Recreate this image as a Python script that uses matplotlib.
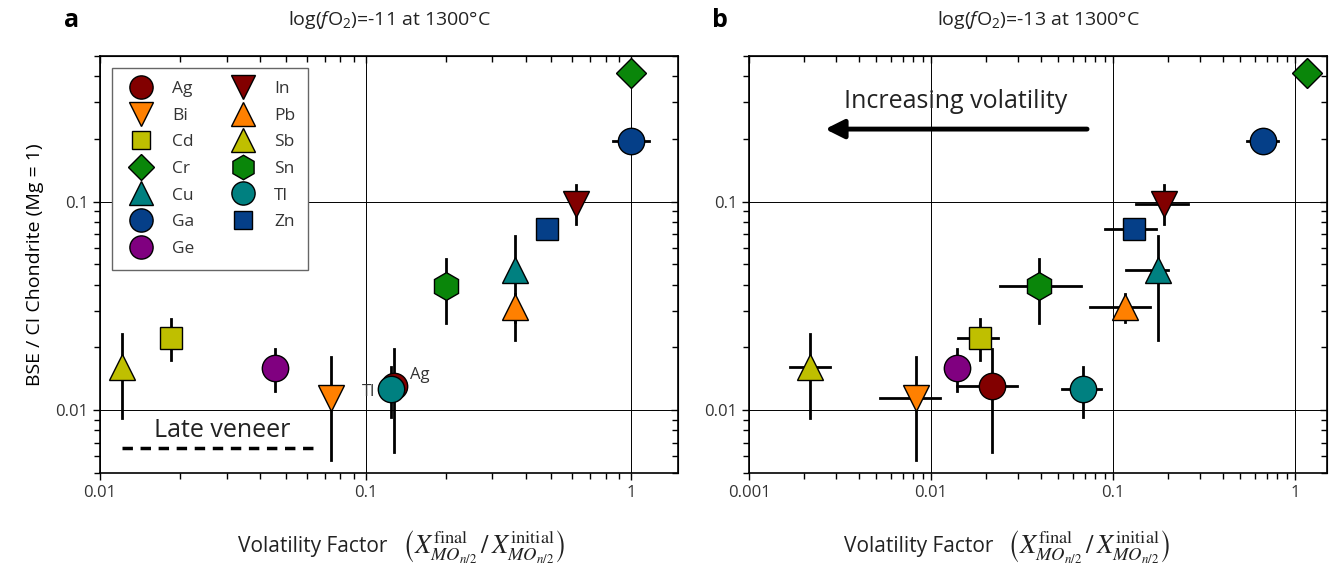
import numpy as np
import matplotlib
matplotlib.use("Agg")
import matplotlib.pyplot as plt
from matplotlib.ticker import FuncFormatter, NullFormatter, LogLocator

plt.rcParams['font.family'] = ['Open Sans', 'DejaVu Sans']
plt.rcParams['mathtext.fontset'] = 'custom'
plt.rcParams['mathtext.rm'] = 'Open Sans'
plt.rcParams['mathtext.it'] = 'Open Sans:italic'
plt.rcParams['text.color'] = '#222222'

# ---- data ----
elements = ['Ag', 'Bi', 'Cd', 'Cr', 'Cu', 'Ga', 'Ge', 'In', 'Pb', 'Sb', 'Sn', 'Tl', 'Zn']

# BSE / CI chondrite abundance (same in both panels)
bse = [0.0130, 0.0115, 0.0223, 0.414, 0.0468, 0.196, 0.0159, 0.0978, 0.0311, 0.0162, 0.0396, 0.0127, 0.0743]
bse_lo = [0.0063, 0.00577, 0.0175, None, 0.0216, None, 0.0123, 0.0785, 0.0264, 0.00916, 0.0261, 0.00927, None]
bse_hi = [0.0196, 0.0180, 0.0275, None, 0.0687, None, 0.0196, 0.1205, 0.036, 0.0233, 0.0533, 0.0161, None]

# panel a: log(fO2) = -11
vf_a = [0.128, 0.0738, 0.0185, 1.0, 0.366, 1.0, 0.0455, 0.621, 0.366, 0.0121, 0.201, 0.125, 0.483]
vf_a_lo = [None, None, None, None, None, 0.85, None, None, None, None, None, None, None]
vf_a_hi = [None, None, None, None, None, 1.17, None, None, None, None, None, None, None]

# panel b: log(fO2) = -13
vf_b = [0.0216, 0.00828, 0.0186, 1.16, 0.176, 0.667, 0.0139, 0.19, 0.117, 0.00216, 0.039, 0.0684, 0.13]
vf_b_lo = [0.0139, 0.00525, 0.01406, None, 0.118, 0.545, None, 0.134, 0.0748, 0.00168, 0.0239, 0.0525, 0.0904]
vf_b_hi = [0.0297, 0.0112, 0.0233, None, 0.200, 0.806, None, 0.258, 0.160, 0.00279, 0.0667, 0.0859, 0.173]

late_veneer_x = [0.0121, 0.066]
late_veneer_y = 0.00658

# ---- styles ----
dred = '#820000'
orange = '#ff8000'
olive = '#bfbf00'
green = '#0a860a'
teal = '#008080'
blue = '#053f88'
purple = '#800080'
style = {
    'Ag': ('o', dred, 19), 'Bi': ('v', orange, 19), 'Cd': ('s', olive, 15.5),
    'Cr': ('D', green, 15.5), 'Cu': ('^', teal, 19), 'Ga': ('o', blue, 19),
    'Ge': ('o', purple, 19), 'In': ('v', dred, 19), 'Pb': ('^', orange, 19),
    'Sb': ('^', olive, 19), 'Sn': ('h', green, 20), 'Tl': ('o', teal, 19),
    'Zn': ('s', blue, 15.5),
}

fig = plt.figure(figsize=(13.34, 5.8), dpi=100)
axa = fig.add_axes([0.075, 0.1845, 0.4333, 0.719])
axb = fig.add_axes([0.5615, 0.1845, 0.4333, 0.719])

xlabel_words = 'Volatility Factor'
xlabel_math = r'$\left(X^{\mathrm{final}}_{MO_{n/2}}\,/\,X^{\mathrm{initial}}_{MO_{n/2}}\right)$'


def draw_panel(ax, vf, vf_lo, vf_hi, xlim, label_split):
    handles = []
    for i, el in enumerate(elements):
        if bse_lo[i] is not None:
            ax.plot([vf[i], vf[i]], [bse_lo[i], bse_hi[i]], color='black', lw=2, zorder=2)
        if vf_lo[i] is not None:
            ax.plot([vf_lo[i], vf_hi[i]], [bse[i], bse[i]], color='black', lw=2, zorder=2)
    for i, el in enumerate(elements):
        mk, col, ms = style[el]
        h, = ax.plot(vf[i], bse[i], ls='none', marker=mk, ms=ms, mfc=col,
                     mec='black', mew=1.0, zorder=3 + i * 0.01, label=el)
        handles.append(h)

    ax.set_xscale('log')
    ax.set_yscale('log')
    ax.set_xlim(*xlim)
    ax.set_ylim(0.005, 0.5)
    ax.grid(True, which='major', color='black', lw=0.7)
    ax.set_axisbelow(True)
    fmt = FuncFormatter(lambda v, p: '%g' % v)
    ax.xaxis.set_major_formatter(fmt)
    ax.yaxis.set_major_formatter(fmt)
    ax.xaxis.set_minor_formatter(NullFormatter())
    ax.yaxis.set_minor_formatter(NullFormatter())
    ax.tick_params(which='both', direction='out', top=False, right=False,
                   labelsize=12, labelcolor='#333333', width=1)
    ax.tick_params(which='major', length=5)
    ax.tick_params(which='minor', length=4)
    for s in ax.spines.values():
        s.set_linewidth(1.2)

    # mirrored ticks pointing inward on top and right
    top = ax.secondary_xaxis('top')
    right = ax.secondary_yaxis('right')
    for sec, axis in ((top, top.xaxis), (right, right.yaxis)):
        axis.set_major_formatter(NullFormatter())
        axis.set_minor_formatter(NullFormatter())
        axis.set_minor_locator(LogLocator(subs=np.arange(2, 10)))
        sec.tick_params(which='both', direction='in', width=1)
        sec.tick_params(which='major', length=5)
        sec.tick_params(which='minor', length=4)

    # x label: sans words plus a larger serif math expression
    ax.text(label_split, -0.176, xlabel_words, transform=ax.transAxes, fontsize=15,
            ha='right', va='center', color='#222222')
    ax.text(label_split + 0.025, -0.176, xlabel_math, transform=ax.transAxes, fontsize=19,
            ha='left', va='center', color='#222222', math_fontfamily='stix')
    return handles


handles = draw_panel(axa, vf_a, vf_a_lo, vf_a_hi, (0.01, 1.5), 0.497)
draw_panel(axb, vf_b, vf_b_lo, vf_b_hi, (0.001, 1.5), 0.422)

axa.set_ylabel('BSE / CI Chondrite (Mg = 1)', fontsize=14, labelpad=8)

leg = axa.legend(handles=handles, ncol=2, loc='upper left', bbox_to_anchor=(0.021, 0.971),
                 borderaxespad=0, fontsize=12.5, markerscale=0.88, labelspacing=0.6,
                 handletextpad=0.9, handlelength=1.8, columnspacing=1.9, borderpad=0.75,
                 fancybox=False, framealpha=1, edgecolor='#666666')
leg.get_frame().set_linewidth(1)
for t in leg.get_texts():
    t.set_color('#333333')

# panel a annotations
axa.plot(late_veneer_x, [late_veneer_y, late_veneer_y], color='black', lw=2.5,
         ls=(0, (3, 2.2)), zorder=2)
axa.text(np.sqrt(late_veneer_x[0] * late_veneer_x[1]) * 1.02, late_veneer_y * 1.21,
         'Late veneer', fontsize=18, ha='center', va='center', color='#222222')
axa.text(vf_a[11] * 0.87, bse[11] * 0.96, 'Tl', fontsize=12, ha='right', va='center', color='#333333')
axa.text(vf_a[0] * 1.15, bse[0] * 1.13, 'Ag', fontsize=12, ha='left', va='center', color='#333333')

# panel b arrow
axb.annotate('', xy=(0.00262, 0.223), xytext=(0.072, 0.223),
             arrowprops=dict(arrowstyle='-|>', lw=3.5, color='black', mutation_scale=28,
                             shrinkA=0, shrinkB=0))
axb.text(0.0136, 0.304, 'Increasing volatility', fontsize=18, ha='center', va='center',
         color='#222222')

# titles and panel letters
for ax, ttl in ((axa, r'log($f$O$_2$)=-11 at 1300°C'), (axb, r'log($f$O$_2$)=-13 at 1300°C')):
    pos = ax.get_position()
    fig.text((pos.x0 + pos.x1) / 2, 0.965, ttl, fontsize=14, ha='center', va='center',
             color='#222222')
fig.text(0.054, 0.965, 'a', fontsize=18, fontweight='bold', ha='center', va='center', color='black')
fig.text(0.540, 0.965, 'b', fontsize=18, fontweight='bold', ha='center', va='center', color='black')

fig.savefig('out.png', dpi=100)
